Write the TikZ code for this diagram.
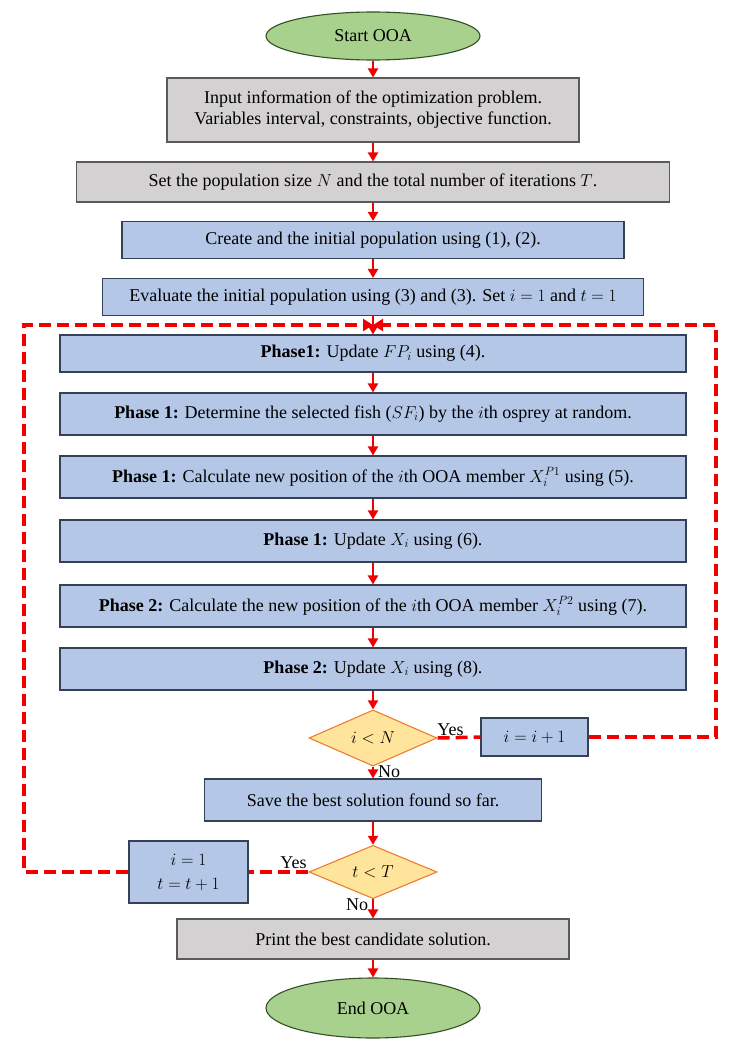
\documentclass[tikz,border=0pt]{standalone}
\usepackage{fontspec}
\setmainfont{Liberation Serif}
\usetikzlibrary{
    arrows.meta,
    shapes.geometric,
    positioning
}
\definecolor{ooablue}{RGB}{180,199,231}
\definecolor{ooabluedark}{RGB}{55,65,85}
\definecolor{ooagray}{RGB}{211,209,209}
\definecolor{ooagraydark}{RGB}{90,90,90}
\definecolor{ooagreen}{RGB}{169,209,142}
\definecolor{ooagreendark}{RGB}{50,80,35}
\definecolor{ooayellow}{RGB}{255,228,155}
\definecolor{ooaorange}{RGB}{237,125,49}
\definecolor{ooared}{RGB}{240,0,0}
\tikzset{
    % Box styles
    term box/.style={
        ellipse,
        draw=ooagreendark,
        fill=ooagreen,
        line width=1.1pt,
        minimum width=214pt,
        minimum height=48pt
    },
    input box/.style={
        rectangle,
        draw=ooagraydark,
        fill=ooagray,
        line width=1.1pt,
        align=center
    },
    process box/.style={
        rectangle,
        draw=ooabluedark,
        fill=ooablue,
        line width=1.1pt,
        align=center
    },
    decision box/.style={
        diamond,
        draw=ooaorange,
        fill=ooayellow,
        line width=1.1pt,
        inner sep=0pt,
        minimum width=128pt,
        minimum height=52pt
    },
    branch label/.style={
        text=black,
        inner sep=1pt
    },
    % Arrow styles
    flow arrow/.style={
        -{Triangle[width=10pt,length=9pt]},
        line width=2pt,
        ooared
    },
    loop line/.style={
        line width=3.5pt,
        ooared,
        dash pattern=on 12pt off 6pt
    },
    loop arrow/.style={
        loop line,
        -{Triangle[width=12pt,length=10pt]}
    }
}

\begin{document}
\begin{tikzpicture}[x=1pt, y=-1pt, font=\fontsize{18}{21}\selectfont]
    \useasboundingbox (0,0) rectangle (741,1049);

    % Start and input
    \node[term box] at (373,36) (start) {Start OOA};
    \node[input box, minimum width=412pt, minimum height=64pt] at (373,110) (input)
        {Input information of the optimization problem.\\Variables interval, constraints, objective function.};
    \node[input box, minimum width=593pt, minimum height=40pt] at (373,182) (setpop)
        {Set the population size $N$ and the total number of iterations $T$.};

    % Initialisation
    \node[process box, minimum width=502pt, minimum height=37pt] at (373,240) (create)
        {Create and the initial population using (1), (2).};
    \node[process box, minimum width=541pt, minimum height=37pt] at (373,297) (evaluate)
        {Evaluate the initial population using (3) and (3). Set $i = 1$ and $t = 1$};

    % Phases
    \foreach \i/\y/\h/\txt in {
        1/353.5/37/{\textbf{Phase1:} Update $FP_i$ using (4).},
        2/414/42/{\textbf{Phase 1:} Determine the selected fish ($SF_i$) by the $i$th osprey at random.},
        3/477/42/{\textbf{Phase 1:} Calculate new position of the $i$th OOA member $X_i^{P1}$ using (5).},
        4/541/42/{\textbf{Phase 1:} Update $X_i$ using (6).},
        5/606/42/{\textbf{Phase 2:} Calculate the new position of the $i$th OOA member $X_i^{P2}$ using (7).},
        6/669/42/{\textbf{Phase 2:} Update $X_i$ using (8).}} {
        \node[process box, minimum width=626pt, minimum height=\h pt] at (373,\y) (phase\i) {\txt};
    }

    % Inner loop
    \node[decision box] at (373,738) (ilessn) {$i < N$};
    \node[process box, minimum width=107pt, minimum height=38pt] at (534.5,737) (inc) {$i = i + 1$};
    \node[process box, minimum width=337pt, minimum height=42pt] at (373,800) (save)
        {Save the best solution found so far.};

    % Outer loop
    \node[decision box] at (373,872) (tlesst) {$t < T$};
    \node[process box, minimum width=119pt, minimum height=62pt] at (188.5,872) (reset)
        {$i = 1$\\[3pt]$t = t + 1$};
    \node[input box, minimum width=392pt, minimum height=40pt] at (373,939) (print)
        {Print the best candidate solution.};
    \node[term box, minimum height=60pt] at (373,1008) (end) {End OOA};

    \coordinate (merge) at (373,325);
    \coordinate (loopNE) at (716,325);
    \coordinate (loopNW) at (24,325);

    % Connections
    \draw[flow arrow] (start) -- (input);
    \draw[flow arrow] (input) -- (setpop);
    \draw[flow arrow] (setpop) -- (create);
    \draw[flow arrow] (create) -- (evaluate);
    \draw[flow arrow] (evaluate) -- (phase1);
    \foreach \i [evaluate=\i as \j using int(\i+1)] in {1,...,5} {
        \draw[flow arrow] (phase\i) -- (phase\j);
    }
    \draw[flow arrow] (phase6) -- (ilessn);
    \draw[flow arrow] (ilessn) -- node[branch label, right=3pt, pos=0.45] {No} (save);
    \draw[flow arrow] (save) -- (tlesst);
    \draw[flow arrow] (tlesst) -- node[branch label, left=3pt, pos=0.3] {No} (print);
    \draw[flow arrow] (print) -- (end);

    % Loops back
    \draw[loop line] (ilessn.east) -- node[branch label, above=-1pt, pos=0.3] {Yes} (inc.west);
    \draw[loop arrow] (inc.east) -| (loopNE) -- (merge);
    \draw[loop line] (tlesst.west) -- node[branch label, above=1pt, pos=0.25] {Yes} (reset.east);
    \draw[loop arrow] (reset.west) -| (loopNW) -- (merge);
\end{tikzpicture}
\end{document}
